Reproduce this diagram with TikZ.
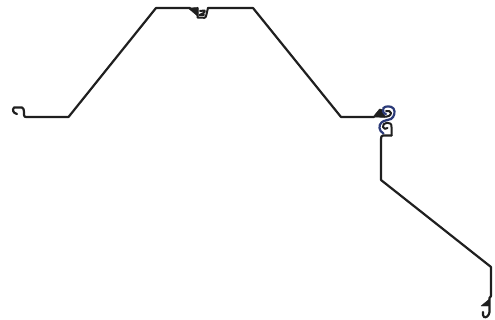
\documentclass[tikz,border=0pt]{standalone}
\definecolor{sealblue}{HTML}{2B3A78}
\tikzset{prof/.style={draw=black!88,line width=2.2pt,line join=round,line cap=round},
 clutch/.style={draw=black!88,line width=2pt,line join=round,line cap=round},
 seal/.style={draw=sealblue,line width=2.2pt,line cap=round},
 wedge/.style={fill=black!88,draw=black!88,line width=.4pt,line join=round}}
\begin{document}
\begin{tikzpicture}[x=1pt,y=-1pt]
\useasboundingbox (0,0) rectangle (495,320);
% left sheet
\draw[prof] (17,114) .. controls (13,113) and (12,110) .. (14,107.5) -- (22,107.5)
  .. controls (23.5,108) and (24,110) .. (24,112) -- (24,115) .. controls (24,116.5) and (25,117) .. (26,117)
  -- (68.5,117) -- (156,8) -- (190,8);
\draw[prof] (208,8) -- (253,8) -- (341,117) -- (374,117);
% top interlock
\draw[wedge] (188,8) -- (198,7.5) -- (198,16.5) -- cycle;
\draw[clutch] (197.5,8) -- (197.5,17.5) -- (204.5,17.8) .. controls (205.5,17.8) and (206,16.5) .. (206.3,15) -- (208,8);
\draw[clutch] (200,11) -- (204.5,10.5) .. controls (205,11.5) and (204.5,12.5) .. (203.5,13) -- (199.5,15) -- (204,15);
% right interlock
\draw[wedge] (373,117) -- (379.5,109) -- (383,109.5) -- (385,117.5) -- cycle;
\draw[clutch] (384,116.5) .. controls (388,117) and (391,115.5) .. (391,113) .. controls (391,111) and (388,110.5) .. (386,111);
\draw[seal] (386,114) .. controls (383,113.5) and (382,110) .. (383.5,108) .. controls (385,106) and (391,105.5) .. (393.5,108.5) .. controls (395.5,112) and (394.5,116.5) .. (391,119) .. controls (388,120.5) and (384,120) .. (381.5,122.5) .. controls (378.5,125) and (378.5,131) .. (383.5,133.5);
\draw[clutch] (391.5,135.5) -- (391.5,127) .. controls (391.5,123.5) and (390,122.8) .. (387,122.8) .. controls (384,122.8) and (382.5,125) .. (383,127) .. controls (383.5,129) and (386,129.5) .. (387.5,128);
\draw[prof] (391.5,135.5) -- (383,135.5) .. controls (381.5,135.5) and (381,137) .. (381,139) -- (381,180) -- (491,267) -- (491,296);
% bottom right
\draw[prof] (491,296) -- (489.5,298) -- (489.5,312) .. controls (489,316) and (486,318) .. (484,317) .. controls (483,316) and (482.5,314) .. (483,312);
\draw[wedge] (481,306) -- (489.5,299) -- (489.5,306) -- cycle;
\end{tikzpicture}
\end{document}
